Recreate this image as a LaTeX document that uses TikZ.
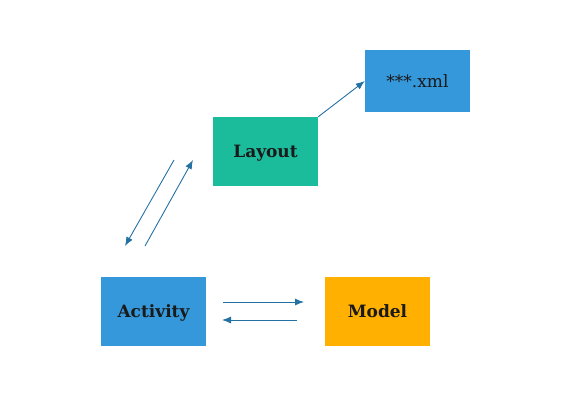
\documentclass[tikz,border=0pt]{standalone}
\usepackage{fontspec}
\setmainfont{DejaVu Serif}
\usetikzlibrary{arrows.meta, positioning}
\definecolor{boxblue}{RGB}{52,152,219}
\definecolor{boxgreen}{RGB}{26,188,156}
\definecolor{boxorange}{RGB}{255,176,0}
\definecolor{linkblue}{RGB}{36,113,163}
\definecolor{textdark}{RGB}{26,26,26}
\tikzstyle{block} = [rectangle, inner sep=0, minimum width=105pt, minimum height=69pt,
                     text height=12.4pt, text depth=0pt,
                     text=textdark, font=\fontsize{17}{20}\selectfont\bfseries]
\tikzstyle{link} = [draw=linkblue, line width=0.9pt, -{Latex[length=9pt,width=7pt]}]

\begin{document}
\begin{tikzpicture}[x=1pt, y=-1pt]
				\useasboundingbox (0, 0) rectangle (587, 416);

				\node (Xml) [block, fill=boxblue, minimum height=62pt, font=\fontsize{17}{20}\selectfont] at (417.5, 81) {***.xml};
				\node (Layout) [block, fill=boxgreen] at (265.5, 151.5) {Layout};
				\node (Activity) [block, fill=boxblue] at (153.5, 311.5) {Activity};
				\node (Model) [block, fill=boxorange] at (377.5, 311.5) {Model};

				% layout to xml
				\draw [link] (Layout.north east) -- (Xml.west);

				% activity and layout
				\coordinate (DownStart) at (174, 160);
				\coordinate (DownEnd) at (125, 246);
				\draw [link] (DownStart) -- (DownEnd);
				\coordinate (UpStart) at (145, 246);
				\coordinate (UpEnd) at (193, 160);
				\draw [link] (UpStart) -- (UpEnd);

				% activity and model
				\coordinate (RightStart) at (223, 302);
				\coordinate (RightEnd) at (304, 302);
				\draw [link] (RightStart) -- (RightEnd);
				\coordinate (LeftStart) at (297, 320);
				\coordinate (LeftEnd) at (222, 320);
				\draw [link] (LeftStart) -- (LeftEnd);
			\end{tikzpicture}
\end{document}
